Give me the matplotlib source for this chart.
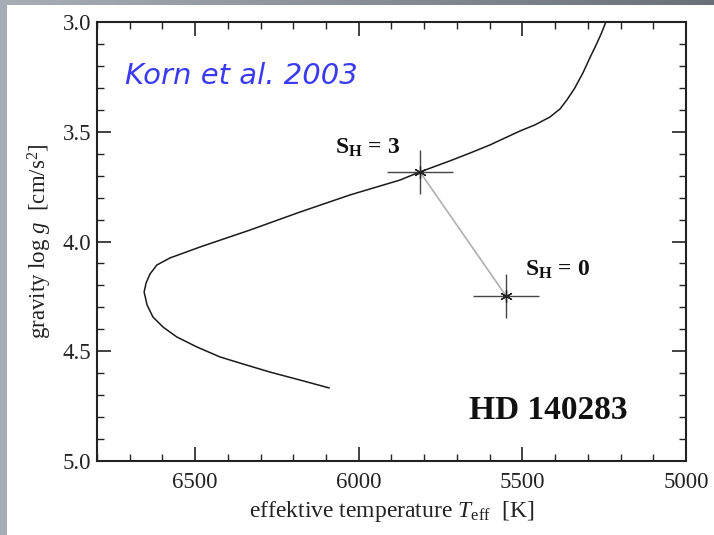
import numpy as np
import matplotlib
matplotlib.use("Agg")
import matplotlib.pyplot as plt
from matplotlib.ticker import MultipleLocator

plt.rcParams['font.family'] = ['Liberation Serif', 'DejaVu Serif']
plt.rcParams['mathtext.fontset'] = 'custom'
plt.rcParams['mathtext.rm'] = 'Liberation Serif'
plt.rcParams['mathtext.it'] = 'Liberation Serif:italic'
plt.rcParams['mathtext.bf'] = 'Liberation Serif:bold'

# Isochrone track (Teff [K], log g), from the main sequence up the subgiant branch
iso_teff = [6091, 6180, 6271, 6354, 6424, 6494, 6556, 6598, 6629, 6647,
            6656, 6650, 6638, 6617, 6577, 6485, 6333, 6180, 6027, 5874,
            5813, 5722, 5660, 5599, 5508, 5462, 5416, 5385, 5364, 5340,
            5315, 5294, 5272, 5257, 5245]
iso_logg = [4.667, 4.631, 4.595, 4.558, 4.526, 4.481, 4.435, 4.390, 4.344, 4.289,
            4.230, 4.189, 4.148, 4.107, 4.075, 4.025, 3.948, 3.866, 3.788, 3.720,
            3.683, 3.633, 3.597, 3.560, 3.497, 3.469, 3.433, 3.396, 3.355, 3.301,
            3.232, 3.164, 3.096, 3.046, 3.000]

# Stellar parameters of HD 140283 for two hydrogen-collision scalings
sh_labels = ["3", "0"]
star_teff = [5813, 5550]
star_logg = [3.683, 4.248]
err_teff = [100, 100]
err_logg = [0.1, 0.1]

fig = plt.figure(figsize=(7.14, 5.35), dpi=100)
fig.patch.set_facecolor('white')

# slide border strips
top = fig.add_axes([0, 1 - 5 / 535, 1, 5 / 535])
top.imshow(np.linspace(0, 1, 256)[None, :], aspect='auto',
           cmap=matplotlib.colors.LinearSegmentedColormap.from_list('g', ['#a7aeb6', '#6a7077']))
top.axis('off')
left = fig.add_axes([0, 0, 7 / 714, 1 - 5 / 535])
left.set_facecolor('#a4acb5')
left.set_xticks([]); left.set_yticks([])
for s in left.spines.values():
    s.set_visible(False)

ax = fig.add_axes([97 / 714, 1 - 461 / 535, (686 - 97) / 714, (461 - 22) / 535])
ax.plot(iso_teff, iso_logg, color='#1a1a1a', lw=1.1, solid_joinstyle='round')
ax.plot(star_teff, star_logg, color='#b0b0b0', lw=1.2, zorder=2)
ax.errorbar(star_teff, star_logg, xerr=err_teff, yerr=err_logg, fmt='none',
            ecolor='#444444', elinewidth=1.0, capsize=0, zorder=3)
ax.plot(star_teff, star_logg, linestyle='none', marker=(6, 2, 0), ms=9,
        mec='#222222', mew=0.9, zorder=4)

ax.set_xlim(6800, 5000)
ax.set_ylim(5.0, 3.0)
ax.xaxis.set_minor_locator(MultipleLocator(100))
ax.yaxis.set_minor_locator(MultipleLocator(0.1))
ax.set_xticks([6500, 6000, 5500, 5000])
ax.set_xticklabels(['6500', '6000', '5500', '5000'])
ax.set_yticks([3.0, 3.5, 4.0, 4.5, 5.0])
ax.set_yticklabels(['3.0', '3.5', '4.0', '4.5', '5.0'])
ax.tick_params(which='both', direction='in', top=True, right=True,
               color='#222222', labelsize=16.5, labelcolor='#222222')
ax.tick_params(which='major', length=10, width=1.2)
ax.tick_params(which='minor', length=5, width=1.0)
ax.tick_params(axis='x', which='major', pad=8)
ax.tick_params(axis='y', which='major', pad=4)
for s in ax.spines.values():
    s.set_linewidth(1.5)
    s.set_color('#222222')

ax.set_xlabel(r"effektive temperature $T_{\rm eff}$  [K]", fontsize=17, color='#222222', labelpad=4)
ax.set_ylabel(r"gravity log $g$  [cm/s$^2$]", fontsize=16.5, color='#222222', labelpad=6)

ax.text(6715, 3.245, "Korn et al. 2003", fontsize=21, color='#3a3af0',
        family=['DejaVu Sans'], style='italic', va='center', ha='left')

ax.text(6073, 3.574, r"$\mathbf{S_H}$ = " + sh_labels[0],
        fontsize=17, fontweight='bold', ha='left', va='center', color='#111111')
ax.text(5492, 4.13, r"$\mathbf{S_H}$ = " + sh_labels[1],
        fontsize=17, fontweight='bold', ha='left', va='center', color='#111111')
ax.text(5178, 4.768, "HD 140283", fontsize=24, fontweight='bold',
        ha='right', va='center', color='#111111')

fig.savefig("out.png", dpi=100, facecolor=fig.get_facecolor())
